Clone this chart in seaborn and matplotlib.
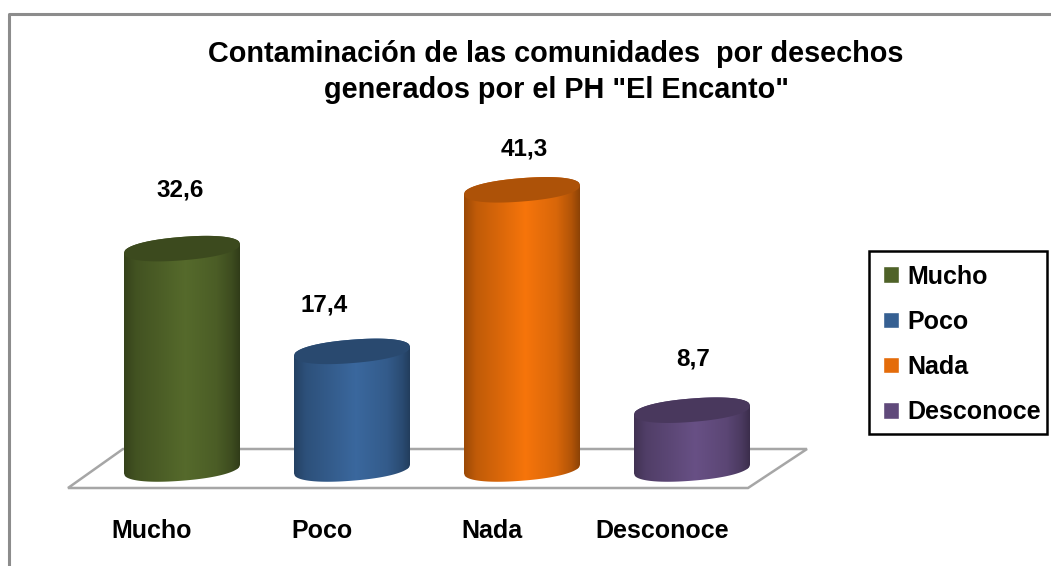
import matplotlib
matplotlib.use("Agg")
import matplotlib.pyplot as plt
import numpy as np
import pandas as pd
import seaborn as sns
from matplotlib.lines import Line2D
from matplotlib.patches import Polygon, Rectangle

# Data
categories = ["Mucho", "Poco", "Nada", "Desconoce"]
values = [32.6, 17.4, 41.3, 8.7]
value_labels = ["32,6", "17,4", "41,3", "8,7"]
colors = ["#4f6228", "#366092", "#e46c0a", "#604a7b"]
title = 'Contaminación de las comunidades  por desechos\ngenerados por el PH "El Encanto"'

# Picture size and where the chart sits inside it, in pixels
W, H = 1051, 566
X0, DX = 182, 170
Y0, PX_PER_UNIT = 469, 6.76

# Offsets of the value labels from the top of each cylinder, in pixels
label_dx = [-2, -28, 2, 1]
label_dy = [59, 46, 41, 51]

sns.set_theme(style="white")
plt.rcParams["font.family"] = ["Liberation Sans", "DejaVu Sans"]
plt.rcParams["font.weight"] = "bold"

df = pd.DataFrame({"category": categories, "value": values})

fig = plt.figure(figsize=(W / 100, H / 100), dpi=100, facecolor="white")
ax = fig.add_axes([0, 0, 1, 1])
ax.patch.set_alpha(0)

sns.barplot(data=df, x="category", y="value", hue="category", order=categories,
            hue_order=categories, palette=colors, saturation=1, width=116 / DX,
            dodge=False, legend=True, ax=ax)

xlim = ((0 - X0) / DX, (W - X0) / DX)
ylim = ((Y0 - H) / PX_PER_UNIT, Y0 / PX_PER_UNIT)

# Cylinder shape: slightly tilted, rather full ellipses at both ends
tilt = 4.5 / PX_PER_UNIT
minor = 11.7 / PX_PER_UNIT
u = np.linspace(-1, 1, 121)
stops = [0, 0.1, 0.3, 0.53, 0.8, 0.93, 1]
shade = [0.68, 0.84, 0.95, 1.08, 0.95, 0.78, 0.62]

for container, color in zip(ax.containers, colors):
    bar = container[0]
    left, half = bar.get_x(), bar.get_width() / 2
    xc = left + half
    top = bar.get_height()
    xs = xc + half * u
    arc = minor * (1 - np.abs(u) ** 2.2) ** (1 / 2.2)
    body = np.r_[np.c_[xs, tilt * u - arc],
                 np.c_[xs[::-1], top + tilt * u[::-1] + arc[::-1]]]
    outline = Polygon(body, closed=True, fc="none", ec="none", transform=ax.transData)
    ax.add_patch(outline)
    bar.set_clip_path(outline)

    base = np.array(matplotlib.colors.to_rgb(color))
    pos = np.linspace(0, 1, 116)
    k = np.interp(pos, stops, shade)
    grad = np.clip(base[None, None, :] * k[None, :, None], 0, 1)
    im = ax.imshow(grad, extent=(left, left + 2 * half, -3, top + 3), aspect="auto",
                   interpolation="bilinear", zorder=3)
    im.set_clip_path(outline)

    cap = np.r_[np.c_[xs, top + tilt * u - arc],
                np.c_[xs[::-1], top + tilt * u[::-1] + arc[::-1]]]
    ax.add_patch(Polygon(cap, closed=True, fc=base * 0.76, ec="none", zorder=4))

ax.set_xlim(xlim)
ax.set_ylim(ylim)
ax.set_xlabel("")
ax.set_ylabel("")
ax.set_yticks([])
ax.set_frame_on(False)

# Category labels sit left of the bars, inside the axes
ax.set_xticks([i - 30 / DX for i in range(len(categories))])
ax.set_xticklabels(categories, fontsize=18, fontweight="bold", color="black")
ax.tick_params(axis="x", length=0, pad=-34)

for i, (val, text) in enumerate(zip(values, value_labels)):
    ax.annotate(text, xy=(i, val), xytext=(label_dx[i] * 0.72, label_dy[i] * 0.72),
                textcoords="offset points", ha="center", va="center",
                fontsize=17.5, fontweight="bold", color="black", zorder=5)

fig.text(556 / W, 1 - 72 / H, title, ha="center", va="center", fontsize=20.8,
         fontweight="bold", color="black", linespacing=1.36)


def px(x, y):
    return x / W, 1 - y / H


# Floor of the 3D chart and the outer chart border
floor = Polygon([px(68, 488), px(748, 488), px(807, 449), px(123, 449)], closed=True,
                fc="none", ec="#a6a6a6", lw=1.8, transform=fig.transFigure, zorder=-1)
fig.add_artist(floor)
border = Line2D([px(9, 0)[0], px(9, 0)[0], 1], [0, px(0, 14)[1], px(0, 14)[1]],
                color="#8c8c8c", lw=2.2, transform=fig.transFigure, zorder=-1)
fig.add_artist(border)

sns.move_legend(ax, "upper left", bbox_to_anchor=px(868, 249.5), bbox_transform=fig.transFigure,
                title=None, frameon=False, fontsize=18, labelcolor="black",
                borderpad=0.6, labelspacing=0.85, handlelength=0.64, handleheight=0.64,
                handletextpad=0.32, borderaxespad=0)

# Legend box is drawn apart, the right padding is narrower than the left one
x0, y1 = px(869, 434)
box = Rectangle((x0, y1), 178 / W, 183 / H, fc="none", ec="black", lw=1.8,
                transform=fig.transFigure, zorder=10)
fig.add_artist(box)

fig.savefig("out.png", dpi=100)
